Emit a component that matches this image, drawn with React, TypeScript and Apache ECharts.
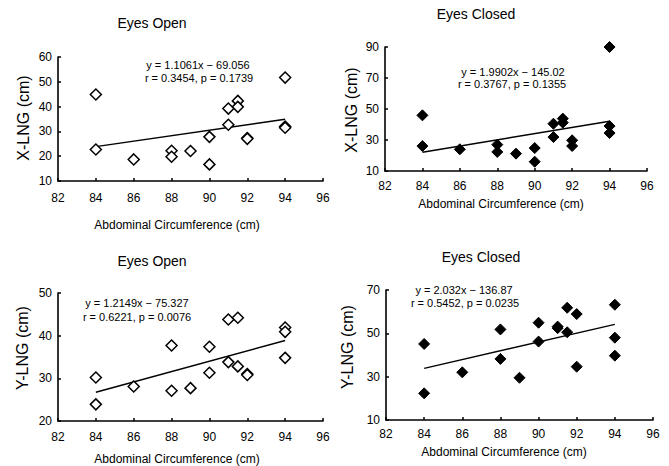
import React, { useEffect, useRef } from "react";
import * as echarts from "echarts";

// Abdominal circumference (cm) of the 17 subjects (shared x values in all panels)
const circumference = [84, 84, 86, 88, 88, 89, 90, 90, 91, 91, 91.5, 91.5, 92, 92, 94, 94, 94];

// X-LNG (cm)
const xlngOpen = [44.9, 22.7, 18.7, 22.2, 19.8, 22.1, 27.8, 16.7, 39.2, 32.7, 42.3, 39.9, 27.3, 27.0, 51.7, 32.0, 31.5];
const xlngClosed = [45.9, 26.1, 24.0, 27.0, 22.3, 21.2, 24.8, 16.0, 40.5, 31.9, 43.8, 41.2, 29.8, 26.1, 90.0, 39.0, 34.5];
// Y-LNG (cm)
const ylngOpen = [30.2, 23.9, 28.1, 37.7, 27.1, 27.7, 37.4, 31.3, 43.8, 33.8, 44.2, 32.8, 31.0, 30.8, 41.9, 40.9, 34.8];
const ylngClosed = [45.1, 22.3, 32.0, 51.8, 38.2, 29.5, 54.9, 46.2, 53.1, 52.4, 61.8, 50.5, 58.9, 34.6, 63.2, 48.0, 39.7];

// Trend line end points (x = 84 and x = 94)
const trendX = [84, 94];
const trendXOpen = [23.86, 34.92];
const trendXClosed = [22.16, 42.06];
const trendYOpen = [26.72, 38.88];
const trendYClosed = [33.82, 54.14];

// Axis ticks
const xTicks = [82, 84, 86, 88, 90, 92, 94, 96];
const yTicksXOpen = [10, 20, 30, 40, 50, 60];
const yTicksXClosed = [10, 30, 50, 70, 90];
const yTicksYOpen = [20, 30, 40, 50];
const yTicksYClosed = [10, 30, 50, 70];

// Texts
const titleOpen = "Eyes Open";
const titleClosed = "Eyes Closed";
const xName = "Abdominal Circumference (cm)";
const yNameX = "X-LNG (cm)";
const yNameY = "Y-LNG (cm)";
const eqXOpen = ["y = 1.1061x \u2212 69.056", "r = 0.3454, p = 0.1739"];
const eqXClosed = ["y = 1.9902x \u2212 145.02", "r = 0.3767, p = 0.1355"];
const eqYOpen = ["y = 1.2149x \u2212 75.327", "r = 0.6221, p = 0.0076"];
const eqYClosed = ["y = 2.032x \u2212 136.87", "r = 0.5452, p = 0.0235"];

const FONT = "'Liberation Sans', Arial, sans-serif";

function pairs(xs: number[], ys: number[]) {
  return xs.map((x, i) => [x, ys[i]]);
}

export default function App() {
  const ref = useRef<HTMLDivElement>(null);

  useEffect(() => {
    if (!ref.current) return;
    const chart = echarts.init(ref.current, undefined, { renderer: "svg" });

    const axisLine = { show: true, onZero: false, lineStyle: { color: "#000", width: 1.6 } };

    const makeX = (gridIndex: number, margin: number) => ({
      type: "value",
      gridIndex,
      min: 82,
      max: 96,
      interval: 2,
      axisLine,
      axisTick: { show: true, inside: true, length: 3, lineStyle: { color: "#000", width: 1.5 }, customValues: xTicks },
      axisLabel: { color: "#000", fontSize: 12, fontFamily: FONT, margin, customValues: xTicks },
      splitLine: { show: false },
    });

    const makeY = (gridIndex: number, ticks: number[]) => ({
      type: "value",
      gridIndex,
      min: ticks[0],
      max: ticks[ticks.length - 1],
      axisLine,
      axisTick: { show: true, inside: true, length: 3, lineStyle: { color: "#000", width: 1.5 }, customValues: ticks },
      axisLabel: { color: "#000", fontSize: 12, fontFamily: FONT, margin: 6, customValues: ticks },
      splitLine: { show: false },
    });

    const scatter = (idx: number, ys: number[], filled: boolean) => ({
      type: "scatter",
      xAxisIndex: idx,
      yAxisIndex: idx,
      symbol: "diamond",
      symbolSize: 11,
      itemStyle: filled
        ? { color: "#000", borderColor: "#000", borderWidth: 1, opacity: 1 }
        : { color: "#fff", borderColor: "#000", borderWidth: 1.5, opacity: 1 },
      emphasis: { disabled: true },
      data: pairs(circumference, ys),
      z: 3,
    });

    const trend = (idx: number, ys: number[]) => ({
      type: "line",
      xAxisIndex: idx,
      yAxisIndex: idx,
      showSymbol: false,
      symbol: "none",
      lineStyle: { color: "#000", width: 1.5 },
      data: pairs(trendX, ys),
      z: 2,
    });

    const text = (
      str: string,
      x: number,
      y: number,
      size: number,
      rotation = 0
    ) => ({
      type: "text",
      x,
      y,
      rotation,
      style: {
        text: str,
        fill: "#000",
        fontSize: size,
        fontFamily: FONT,
        textAlign: "center",
        textVerticalAlign: "middle",
        align: "center",
        verticalAlign: "middle",
      },
    });

    const option: any = {
      animation: false,
      backgroundColor: "#fff",
      grid: [
        { left: 58, top: 57, width: 265, height: 124 },
        { left: 385, top: 47, width: 262, height: 124 },
        { left: 58, top: 293, width: 265, height: 128 },
        { left: 386, top: 290, width: 267, height: 130 },
      ],
      xAxis: [makeX(0, 11), makeX(1, 9), makeX(2, 10), makeX(3, 8)],
      yAxis: [
        makeY(0, yTicksXOpen),
        makeY(1, yTicksXClosed),
        makeY(2, yTicksYOpen),
        makeY(3, yTicksYClosed),
      ],
      series: [
        trend(0, trendXOpen),
        trend(1, trendXClosed),
        trend(2, trendYOpen),
        trend(3, trendYClosed),
        scatter(0, xlngOpen, false),
        scatter(1, xlngClosed, true),
        scatter(2, ylngOpen, false),
        scatter(3, ylngClosed, true),
      ],
      graphic: [
        text(titleOpen, 152, 23, 14),
        text(titleClosed, 476, 14, 14),
        text(titleOpen, 152, 261, 14),
        text(titleClosed, 481, 257, 14),
        text(yNameX, 23, 118, 16, Math.PI / 2),
        text(yNameX, 351, 110, 16, Math.PI / 2),
        text(yNameY, 22, 348, 16, Math.PI / 2),
        text(yNameY, 347, 347, 16, Math.PI / 2),
        text(xName, 177, 225, 12),
        text(xName, 501, 204, 12),
        text(xName, 177, 459, 12),
        text(xName, 504, 452, 12),
        text(eqXOpen[0], 198, 65, 11),
        text(eqXOpen[1], 199, 78, 11),
        text(eqXClosed[0], 513, 72, 11),
        text(eqXClosed[1], 512, 84, 11),
        text(eqYOpen[0], 137, 303, 11),
        text(eqYOpen[1], 137, 317, 11),
        text(eqYClosed[0], 464, 290, 11),
        text(eqYClosed[1], 465, 303, 11),
      ],
    };

    chart.setOption(option);
    return () => chart.dispose();
  }, []);

  return (
    <div
      ref={ref}
      style={{ position: "absolute", left: 0, top: 0, width: 669, height: 466, background: "#fff" }}
    />
  );
}
